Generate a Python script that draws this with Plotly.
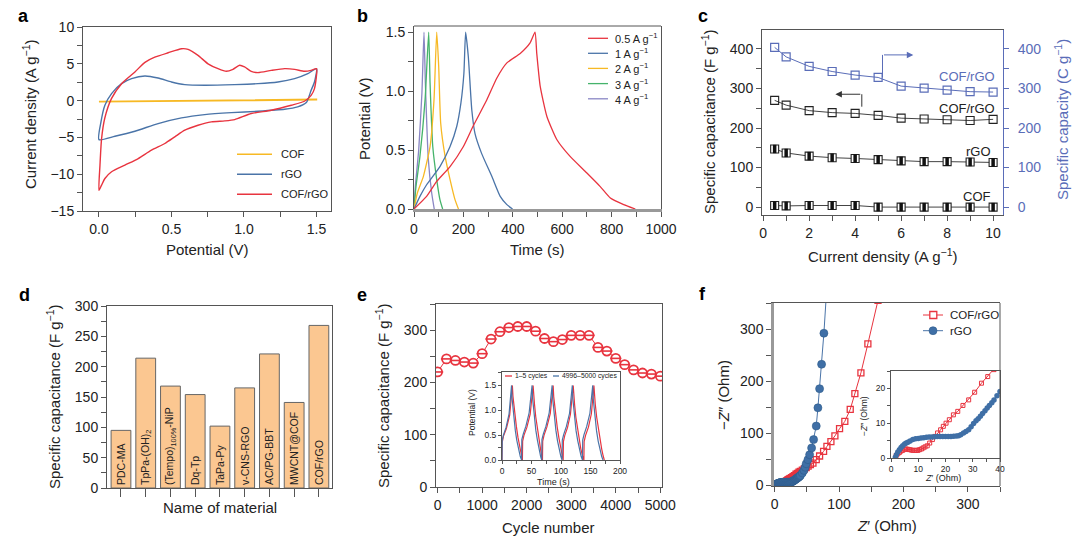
import plotly.graph_objects as go

FONT = "Liberation Sans, Arial, Helvetica, sans-serif"
W, H = 1080, 554
def X(p): return p / W
def Y(p): return 1 - p / H

RED = "#e8343f"; BLUE = "#4a74a8"; YEL = "#f7b924"; GRN = "#45b36b"; PUR = "#8a86c4"
CBLUE = "#5a6db8"; AX = "#555555"; TXT = "#222222"

# ---------------- panel a : CV curves ----------------
cv_cof_v = [0, 0.5, 1.0, 1.5, 1.5, 1.0, 0.5, 0]
cv_cof_i = [-0.12, -0.05, 0.05, 0.18, 0.12, 0.0, -0.08, -0.16]
cv_rgo_v = [0, 0.014, 0.041, 0.087, 0.156, 0.225, 0.317, 0.408, 0.5, 0.592, 0.729, 0.936, 1.096, 1.234, 1.349, 1.44, 1.5,
            1.486, 1.463, 1.43, 1.37, 1.28, 1.096, 0.913, 0.729, 0.569, 0.408, 0.248, 0.11, 0]
cv_rgo_i = [-5.3, -2.9, -0.63, 0.95, 2.3, 2.98, 3.35, 3.07, 2.53, 2.17, 2.08, 2.17, 2.3, 2.53, 2.98, 3.66, 4.34,
            2.53, 1.4, -0.27, -0.86, -1.18, -1.45, -1.63, -1.9, -2.35, -3.12, -4.16, -4.84, -5.3]
cv_comp_v = [0, 0.007, 0.018, 0.04, 0.086, 0.156, 0.248, 0.317, 0.385, 0.477, 0.569, 0.615, 0.683, 0.752, 0.821, 0.878,
             0.924, 0.97, 1.004, 1.05, 1.096, 1.188, 1.28, 1.349, 1.417, 1.463, 1.5,
             1.486, 1.463, 1.417, 1.326, 1.188, 1.05, 0.936, 0.867, 0.775, 0.683, 0.592, 0.523, 0.454, 0.362, 0.271,
             0.179, 0.087, 0.041, 0.018, 0]
cv_comp_i = [-12.2, -8.8, -5.2, -2.4, 0.27, 2.3, 3.9, 5.2, 5.9, 6.5, 7.05, 6.96, 6.15, 5.0, 4.34, 3.98,
             4.25, 4.8, 4.57, 3.98, 3.8, 4.1, 4.34, 4.25, 3.98, 4.1, 4.34,
             1.63, 0.72, -0.09, -0.63, -1.31, -1.76, -2.58, -2.76, -2.89, -3.35, -4.02, -4.93, -5.83, -6.74, -7.87,
             -8.77, -9.67, -10.58, -11.48, -12.2]

# ---------------- panel b : GCD curves ----------------
gcd_labels = ["0.5 A g<sup>−1</sup>", "1 A g<sup>−1</sup>", "2 A g<sup>−1</sup>", "3 A g<sup>−1</sup>", "4 A g<sup>−1</sup>"]
gcd_05_t = [0, 51, 92, 146, 200, 240, 295, 335, 376, 430, 470, 490, 497, 511, 538, 578, 632, 700, 754, 795, 849, 896]
gcd_05_v = [0, 0.107, 0.234, 0.36, 0.53, 0.706, 0.927, 1.11, 1.24, 1.32, 1.41, 1.5, 1.32, 1.04, 0.785, 0.59, 0.446, 0.305, 0.19, 0.093, 0.037, 0]
gcd_1_t = [0, 24, 51, 105, 146, 173, 190, 202, 209, 220, 234, 247, 274, 315, 349, 376, 399]
gcd_1_v = [0, 0.107, 0.206, 0.36, 0.53, 0.70, 0.9, 1.15, 1.5, 1.29, 0.84, 0.64, 0.47, 0.277, 0.107, 0.037, 0]
gcd_2_t = [0, 13.5, 38, 65, 81, 92, 100, 108, 126, 146, 166, 180]
gcd_2_v = [0, 0.136, 0.277, 0.53, 0.927, 1.5, 1.21, 0.73, 0.446, 0.25, 0.08, 0]
gcd_3_t = [0, 8, 24, 45, 59.5, 65, 76, 92, 105, 116]
gcd_3_v = [0, 0.19, 0.446, 0.93, 1.5, 1.07, 0.53, 0.25, 0.08, 0]
gcd_4_t = [0, 5.4, 19, 32, 40.5, 46, 58, 71.6, 82]
gcd_4_v = [0, 0.19, 0.5, 0.98, 1.5, 1.07, 0.42, 0.136, 0]

# ---------------- panel c : rate performance ----------------
c_current = [0.5, 1, 2, 3, 4, 5, 6, 7, 8, 9, 10]
c_comp_capacity = [404, 380, 356, 343, 334, 328, 306, 301, 296, 292, 291]
c_comp_capac = [270, 258, 244, 239, 237, 232, 225, 223, 221, 219, 222]
c_rgo_capac = [147, 137, 129, 125, 123, 120, 117, 115, 115, 114, 113]
c_cof_capac = [4, 3, 4, 4, 4, 0, 0, 0, 0, 0, 0]

# ---------------- panel d : comparison bars ----------------
d_materials = ["PDC-MA", "TpPa-(OH)<sub>2</sub>", "(Tempo)<sub>100%</sub>-NiP", "Dq-Tp", "TaPa-Py",
               "v-CNS-RGO", "AC/PG-BBT", "MWCNT@COF", "COF/rGO"]
d_capac = [95, 214, 168, 154, 102, 165, 221, 141, 268]

# ---------------- panel e : cycling ----------------
e_cycles = [0, 200, 400, 600, 800, 1000, 1200, 1400, 1600, 1800, 2000, 2200, 2400, 2600, 2800, 3000,
            3200, 3400, 3600, 3800, 4000, 4200, 4400, 4600, 4800, 5000]
e_capac = [220, 245, 242, 239, 237, 255, 283, 297, 305, 307, 307, 298, 284, 278, 282, 290,
           290, 290, 267, 260, 246, 234, 224, 218, 216, 212]
inset_first_t = [0, 0.4, 2.5, 7.4, 13, 17.6, 18.6, 19.8, 22, 24.4, 27, 30, 32.5, 34.6,
                 35.0, 37.3, 42, 47.8, 52.7, 53.7, 55, 57.2, 59.5, 62, 65, 67, 68.6,
                 69.0, 71.3, 76, 81.8, 86.7, 87.7, 89, 91.2, 93.6, 96.5, 99.5, 102, 103.7,
                 104.1, 106.3, 111, 116, 120.7, 121.7, 123, 125.2, 127.6, 130.3, 133.5, 136.5, 138.8,
                 139.2, 141.5, 146.5, 151.5, 155.8, 156.8, 158, 160.5, 163, 166, 169, 171.5, 173.4]
inset_first_v = [0, 0.36, 0.48, 0.63, 0.9, 1.5, 1.28, 1.14, 0.88, 0.67, 0.46, 0.26, 0.1, 0,
                 0.38, 0.5, 0.65, 0.92, 1.5, 1.27, 1.13, 0.87, 0.66, 0.45, 0.24, 0.09, 0,
                 0.38, 0.5, 0.66, 0.93, 1.5, 1.27, 1.13, 0.87, 0.66, 0.44, 0.24, 0.09, 0,
                 0.37, 0.49, 0.65, 0.92, 1.5, 1.26, 1.12, 0.86, 0.65, 0.44, 0.23, 0.08, 0,
                 0.37, 0.49, 0.66, 0.93, 1.5, 1.27, 1.13, 0.86, 0.64, 0.43, 0.22, 0.08, 0]
inset_last_t = [0, 0.4, 2.4, 7, 12, 16.2, 17.0, 18.2, 20.2, 22.5, 25, 28, 31, 33.2,
                33.6, 36, 40.5, 46, 51, 51.8, 53, 55, 57.3, 60, 63, 65.5, 67.3,
                67.7, 70, 74.5, 80, 85, 85.8, 87, 89, 91.3, 94, 97, 99.8, 101.8,
                102.2, 104.5, 109, 114.5, 119.2, 120, 121.2, 123.2, 125.5, 128.3, 131.3, 134.2, 136.4,
                136.8, 139, 143.5, 149, 153.8, 154.6, 155.8, 157.8, 160.2, 163, 166, 169, 171.2]
inset_last_v = [0, 0.4, 0.5, 0.66, 0.93, 1.5, 1.25, 1.08, 0.82, 0.6, 0.4, 0.21, 0.07, 0,
                0.41, 0.52, 0.68, 0.95, 1.5, 1.25, 1.08, 0.82, 0.6, 0.4, 0.2, 0.07, 0,
                0.41, 0.52, 0.68, 0.95, 1.5, 1.25, 1.08, 0.82, 0.6, 0.39, 0.2, 0.07, 0,
                0.4, 0.51, 0.67, 0.94, 1.5, 1.24, 1.07, 0.81, 0.59, 0.39, 0.2, 0.07, 0,
                0.4, 0.51, 0.67, 0.94, 1.5, 1.24, 1.07, 0.81, 0.59, 0.38, 0.19, 0.07, 0]

# ---------------- panel f : Nyquist ----------------
nyq_comp_re = [1.9, 2.5, 3.1, 3.7, 4.3, 5.0, 5.6, 6.2, 6.8, 7.4, 8.0, 8.7, 9.3, 9.9, 10.5, 11.2, 11.8, 12.5, 13.3,
               14.2, 15.2, 16.1, 17.1, 18.2, 19.2, 20.2, 21.4, 22.9, 24.5, 26.4, 28.5, 30.7, 33.2, 35.5, 37.8,
               40, 43, 46, 49, 52, 55.5, 59.5, 64.6, 69.8, 76, 81.2, 87.4, 93.6, 100.8, 109, 117.4, 124.6,
               134, 144.8, 160.5]
nyq_comp_im = [0.7, 1.2, 1.6, 2.0, 2.2, 2.5, 2.6, 2.5, 2.4, 2.3, 2.2, 2.2, 2.2, 2.2, 2.4, 2.6, 2.9, 3.2, 3.5,
               4.3, 5.3, 6.2, 7.2, 8.1, 9.1, 10.0, 11.0, 12.4, 13.4, 15.1, 16.7, 18.9, 21.5, 23.4, 25.4,
               27, 29.5, 32, 34.5, 37, 40, 43, 49.5, 56.5, 65.5, 75, 84, 95, 109, 123, 145.8, 176,
               216, 271.7, 355]
nyq_rgo_re = [1.6, 2.0, 2.5, 3.1, 3.7, 4.3, 5.0, 5.6, 6.2, 7.0, 8.0, 9.0, 10.0, 11.0, 12.0, 13.0, 14.0, 15.0,
              16.0, 17.0, 18.0, 19.0, 20.0, 21.0, 22.0, 23.0, 24.0, 24.8, 25.6, 26.6, 27.5, 28.5, 29.4, 30.3,
              31.2, 32.0, 32.8, 33.6, 34.5, 35.3, 36.1, 37.0, 37.8, 38.9, 40.0,
              43, 45.5, 47.5, 49, 51.7, 54.3, 57.4, 60.5, 64.6, 67.2, 69.8, 72.9, 76.5, 80]
nyq_rgo_im = [0.2, 0.9, 1.7, 2.4, 3.0, 3.5, 4.0, 4.3, 4.5, 4.9, 5.3, 5.5, 5.6, 5.75, 5.85, 5.95, 6.0, 6.05,
              6.1, 6.15, 6.2, 6.2, 6.2, 6.2, 6.2, 6.25, 6.3, 6.4, 6.7, 7.2, 7.6, 8.1, 9.0, 9.9,
              10.7, 11.3, 12.0, 12.8, 13.6, 14.4, 15.1, 15.9, 16.7, 17.9, 19.1,
              24, 29, 35, 41.7, 49.5, 59, 72, 88, 114, 149, 185.6, 232.5, 292, 360]

fig = go.Figure()

# a
fig.add_trace(go.Scatter(x=cv_cof_v, y=cv_cof_i, mode="lines", line=dict(color=YEL, width=1.4), xaxis="x", yaxis="y"))
fig.add_trace(go.Scatter(x=cv_rgo_v, y=cv_rgo_i, mode="lines", line=dict(color=BLUE, width=1.4, shape="spline", smoothing=0.6), xaxis="x", yaxis="y"))
fig.add_trace(go.Scatter(x=cv_comp_v, y=cv_comp_i, mode="lines", line=dict(color=RED, width=1.4, shape="spline", smoothing=0.6), xaxis="x", yaxis="y"))

# b
for t, v, col in [(gcd_4_t, gcd_4_v, PUR), (gcd_3_t, gcd_3_v, GRN), (gcd_2_t, gcd_2_v, YEL),
                  (gcd_1_t, gcd_1_v, BLUE), (gcd_05_t, gcd_05_v, RED)]:
    fig.add_trace(go.Scatter(x=t, y=v, mode="lines", line=dict(color=col, width=1.3, shape="spline", smoothing=0.5),
                             xaxis="x2", yaxis="y2"))

# c
lc = dict(color="#444", width=1)
fig.add_trace(go.Scatter(x=c_current, y=c_comp_capacity, mode="lines+markers", line=dict(color=CBLUE, width=1),
                         marker=dict(symbol="square-open", size=8, color=CBLUE, line=dict(width=1.2)), xaxis="x3", yaxis="y4"))
fig.add_trace(go.Scatter(x=c_current, y=c_comp_capac, mode="lines+markers", line=lc,
                         marker=dict(symbol="square-open", size=8, color="#222", line=dict(width=1.1)), xaxis="x3", yaxis="y3"))
for ys in (c_rgo_capac, c_cof_capac):
    fig.add_trace(go.Scatter(x=c_current, y=ys, mode="lines+markers", line=lc,
                             marker=dict(symbol="square", size=8, color="white", line=dict(width=1.1, color="#222")), xaxis="x3", yaxis="y3"))
    fig.add_trace(go.Scatter(x=c_current, y=ys, mode="markers",
                             marker=dict(symbol="line-ns", size=6, color="#111", line=dict(width=3.5, color="#111")), xaxis="x3", yaxis="y3"))

# d
fig.add_trace(go.Bar(x=list(range(len(d_materials))), y=d_capac, width=0.8, text=d_materials,
                     textposition="inside", insidetextanchor="start", textangle=-90, constraintext="none",
                     textfont=dict(size=10.5, color=TXT, family=FONT),
                     marker=dict(color="#fbc791", line=dict(color="#666", width=1)), xaxis="x4", yaxis="y5"))

# e
fig.add_trace(go.Scatter(x=e_cycles, y=e_capac, mode="lines+markers", line=dict(color=RED, width=1),
                         marker=dict(symbol="circle", size=9, color="white", line=dict(color=RED, width=1.8)),
                         xaxis="x5", yaxis="y6"))
fig.add_trace(go.Scatter(x=e_cycles, y=e_capac, mode="markers",
                         marker=dict(symbol="line-ew", size=8, color=RED, line=dict(color=RED, width=1.6)),
                         xaxis="x5", yaxis="y6"))
fig.add_trace(go.Scatter(x=inset_first_t, y=inset_first_v, mode="lines", line=dict(color=RED, width=1.2),
                         xaxis="x6", yaxis="y7"))
fig.add_trace(go.Scatter(x=inset_last_t, y=inset_last_v, mode="lines", line=dict(color=BLUE, width=1.2),
                         xaxis="x6", yaxis="y7"))

# f
fig.add_trace(go.Scatter(x=nyq_comp_re, y=nyq_comp_im, mode="lines+markers", line=dict(color=RED, width=1),
                         marker=dict(symbol="square-open", size=6, color=RED, line=dict(width=1.3)), xaxis="x7", yaxis="y8"))
fig.add_trace(go.Scatter(x=nyq_rgo_re, y=nyq_rgo_im, mode="lines+markers", line=dict(color=BLUE, width=1),
                         marker=dict(symbol="circle", size=8, color="#3f6fa6", line=dict(width=0.6, color="#2e5a8a")), xaxis="x7", yaxis="y8"))
fig.add_trace(go.Scatter(x=nyq_comp_re, y=nyq_comp_im, mode="lines+markers", line=dict(color=RED, width=1),
                         marker=dict(symbol="square-open", size=4, color=RED, line=dict(width=1)), xaxis="x8", yaxis="y9"))
fig.add_trace(go.Scatter(x=nyq_rgo_re, y=nyq_rgo_im, mode="lines+markers", line=dict(color=BLUE, width=1),
                         marker=dict(symbol="circle", size=5.5, color="#3f6fa6", line=dict(width=0)), xaxis="x8", yaxis="y9"))


def axis(dom, rng, dtick, minor, size=14, ticklen=5, **kw):
    d = dict(domain=dom, range=rng, showline=True, linecolor=AX, linewidth=1, mirror=True, automargin=False,
             ticks="outside", ticklen=ticklen, tickwidth=1, tickcolor=AX, showgrid=False, zeroline=False,
             tickfont=dict(size=size, color=TXT, family=FONT), fixedrange=True)
    if dtick is not None:
        d["dtick"] = dtick
    if minor:
        d["minor"] = dict(dtick=minor, ticks="outside", ticklen=ticklen, tickcolor=AX, tickwidth=1, showgrid=False)
    d.update(kw)
    return d

lay = dict(width=W, height=H, autosize=False, margin=dict(l=0, r=0, t=0, b=0, pad=0, autoexpand=False),
           plot_bgcolor="white", paper_bgcolor="white",
           showlegend=False, font=dict(family=FONT, color=TXT), bargap=0.2)

# a
lay["xaxis"] = axis([X(83), X(331)], [-0.11, 1.6], 0.5, 0.25, anchor="y", tickformat=".1f")
lay["yaxis"] = axis([Y(211), Y(27)], [-15, 10], 5, 2.5, anchor="x")
# b
lay["xaxis2"] = axis([X(414), X(661)], [0, 1000], 200, 100, anchor="y2", linecolor="#999", linewidth=2.5, mirror=False)
lay["yaxis2"] = axis([Y(209), Y(26)], [0, 1.553], 0.5, 0.25, anchor="x2", tickformat=".1f")
# c
lay["xaxis3"] = axis([X(762), X(1003)], [-0.05, 10.43], 2, 1, anchor="y3")
lay["yaxis3"] = axis([Y(215), Y(30)], [-20, 448], 100, 50, anchor="x3", mirror=False)
lay["yaxis4"] = axis([Y(215), Y(30)], [-20, 448], 100, 50, anchor="x3", overlaying="y3", side="right",
                     linecolor=CBLUE, tickcolor=CBLUE, mirror=False, ticklabelstandoff=6,
                     tickfont=dict(size=14, color=CBLUE, family=FONT))
lay["yaxis4"]["minor"]["tickcolor"] = CBLUE
# d
lay["xaxis4"] = axis([X(107), X(332)], [-0.565, 8.53], None, None, anchor="y5", tickmode="array",
                     tickvals=list(range(9)), showticklabels=False, ticklen=8)
lay["yaxis5"] = axis([Y(488), Y(306)], [0, 300], 50, 25, anchor="x4")
# e
lay["xaxis5"] = axis([X(436), X(662)], [-36, 5038], 1000, 500, anchor="y6")
lay["yaxis6"] = axis([Y(487), Y(304)], [0, 350], 100, 50, anchor="x5")
lay["xaxis6"] = axis([X(502), X(620)], [0, 200], 50, 25, size=8.5, ticklen=3, anchor="y7")
lay["yaxis7"] = axis([Y(460), Y(372)], [0, 1.77], 0.5, 0.25, size=8.5, ticklen=3, anchor="x6", tickformat=".1f")
# f
lay["xaxis7"] = axis([X(774), X(1000)], [-1, 350], 100, 50, anchor="y8")
lay["yaxis8"] = axis([Y(486), Y(303)], [-1, 350], 100, 50, anchor="x7", linecolor="#999", linewidth=2.5, mirror=False)
lay["xaxis8"] = axis([X(891), X(1000)], [0, 40], 10, 5, size=8.5, ticklen=3, anchor="y9")
lay["yaxis9"] = axis([Y(458), Y(371)], [0, 25], 10, 5, size=8.5, ticklen=3, anchor="x8")

shapes = []
def pline(x0, y0, x1, y1, color=AX, width=1):
    shapes.append(dict(type="line", xref="paper", yref="paper", x0=X(x0), y0=Y(y0), x1=X(x1), y1=Y(y1),
                       line=dict(color=color, width=width), layer="above"))
# frame completions
pline(414, 26, 661, 26)
pline(1000, 303, 1000, 486)
# legend a
for yy, col in [(154.3, YEL), (174.3, BLUE), (194.3, RED)]:
    pline(237, yy, 272, yy, col, 1.4)
# legend b
for yy, col in zip([38.3, 53.3, 68.4, 83.6, 98.8], [RED, BLUE, YEL, GRN, PUR]):
    pline(588, yy, 608, yy, col, 1.3)
# legend e inset
pline(505, 376, 512, 376, RED, 1.3)
pline(553, 376, 559, 376, BLUE, 1.3)
# legend f
pline(923, 315, 943, 315, RED, 1)
pline(923, 330.7, 943, 330.7, BLUE, 1)
shapes.append(dict(type="rect", xref="paper", yref="paper", x0=X(929.8), x1=X(936.8), y0=Y(311.5), y1=Y(318.5),
                   line=dict(color=RED, width=1.3), fillcolor="white", layer="above"))
shapes.append(dict(type="circle", xref="paper", yref="paper", x0=X(929), x1=X(937), y0=Y(326.7), y1=Y(334.7),
                   line=dict(color="#2e5a8a", width=0.6), fillcolor="#3f6fa6", layer="above"))
# arrows in c (vertical parts)
shapes.append(dict(type="line", xref="x3", yref="y3", x0=4.29, y0=254, x1=4.29, y1=285.5, line=dict(color="#333", width=1)))
shapes.append(dict(type="line", xref="x3", yref="y4", x0=5.19, y0=328, x1=5.19, y1=385, line=dict(color=CBLUE, width=1)))
lay["shapes"] = shapes

ann = []
def txt(x, y, s, size=15, xanchor="center", yanchor="middle", angle=0, color=TXT, bold=False):
    ann.append(dict(x=X(x), y=Y(y), xref="paper", yref="paper", text=("<b>%s</b>" % s) if bold else s,
                    showarrow=False, xanchor=xanchor, yanchor=yanchor, textangle=angle,
                    font=dict(size=size, color=color, family=FONT)))
# panel letters
for lx, ly, s in [(23, 16, "a"), (362, 16, "b"), (703, 16, "c"), (24, 295, "d"), (362, 295, "e"), (702, 294, "f")]:
    txt(lx, ly, s, size=18, bold=True, color="#000")
# axis titles
txt(207, 250, "Potential (V)")
txt(29, 114, "Current density (A g<sup>−1</sup>)", angle=-90)
txt(537, 250, "Time (s)")
txt(365, 119, "Potential (V)", angle=-90)
txt(883, 255, "Current density (A g<sup>−1</sup>)")
txt(708, 122, "Specific capacitance (F g<sup>−1</sup>)", angle=-90)
txt(1062, 120, "Specific capacity (C g<sup>−1</sup>)", angle=-90, color=CBLUE)
txt(220, 507, "Name of material")
txt(53, 397, "Specific capacitance (F g<sup>−1</sup>)", angle=-90)
txt(548, 527, "Cycle number")
txt(382, 396, "Specific capacitance (F g<sup>−1</sup>)", angle=-90)
txt(887, 525, "<i>Z</i>′ (Ohm)")
txt(723, 395, "−<i>Z</i>″ (Ohm)", angle=-90)
txt(553, 482, "Time (s)", size=9)
txt(472, 413, "Potential (V)", size=8.5, angle=-90)
txt(943, 478, "<i>Z</i>′ (Ohm)", size=9)
txt(864, 416, "−<i>Z</i>″ (Ohm)", size=8.5, angle=-90)
# legends text
for yy, s in [(154.3, "COF"), (174.3, "rGO"), (194.3, "COF/rGO")]:
    txt(279, yy, s, size=11, xanchor="left")
for yy, s in zip([38.3, 53.3, 68.4, 83.6, 98.8], gcd_labels):
    txt(613, yy, s, size=11, xanchor="left")
txt(513, 376, "1–5 cycles", size=6.8, xanchor="left")
txt(560, 376, "4996–5000 cycles", size=6.8, xanchor="left")
txt(948, 315, "COF/rGO", size=11.5, xanchor="left")
txt(948, 330.7, "rGO", size=11.5, xanchor="left")
# c labels
txt(997, 77, "COF/rGO", size=13, xanchor="right", color=CBLUE)
txt(997, 108, "COF/rGO", size=13, xanchor="right")
txt(993, 151, "rGO", size=13, xanchor="right")
txt(993, 197, "COF", size=13, xanchor="right")
# c arrows (horizontal parts with heads)
ann.append(dict(x=3.14, y=285.5, ax=4.29, ay=285.5, xref="x3", yref="y3", axref="x3", ayref="y3", text="",
                showarrow=True, arrowhead=2, arrowsize=1.3, arrowwidth=1, arrowcolor="#333"))
ann.append(dict(x=6.53, y=385, ax=5.19, ay=385, xref="x3", yref="y4", axref="x3", ayref="y4", text="",
                showarrow=True, arrowhead=2, arrowsize=1.3, arrowwidth=1, arrowcolor=CBLUE))
lay["annotations"] = ann

fig.update_layout(**lay)
fig.write_html("out.html")
